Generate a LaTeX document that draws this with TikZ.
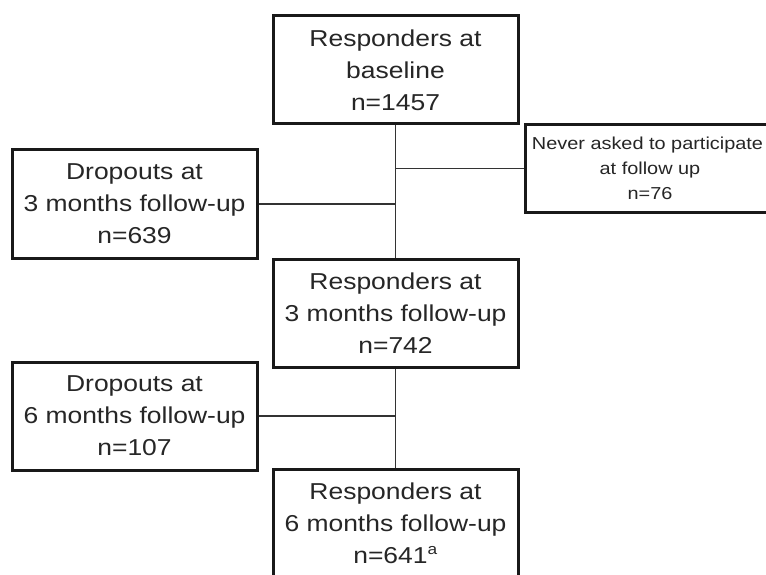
\documentclass[tikz,border=0pt]{standalone}
\usepackage{fontspec}
\setmainfont{Liberation Sans}[FakeStretch=1.15]
\usepackage{tikz}
\usetikzlibrary{positioning, shadows}

\begin{document}
\begin{tikzpicture}[
    x=1pt, y=-1pt,
    box/.style={rectangle, draw=black!90, line width=3pt, fill=white,
        minimum width=245pt, minimum height=108pt, inner sep=0pt,
        align=center, text=black!85, font=\fontsize{23}{32}\selectfont,
        general shadow={fill=black!85, shadow xshift=1.5pt, shadow yshift=-1.5pt}},
    smallbox/.style={box, minimum width=250pt, minimum height=87pt,
        font=\fontsize{17.3}{25}\selectfont},
    edge/.style={line width=1.2pt, black!80}
]
    \useasboundingbox (0,0) rectangle (766,575);

    % --- main column ---
    \node[box] (base)  at (395.5, 70)    {Responders at\\baseline\\n=1457};
    \node[box] (resp3) at (395.5, 313.5) {Responders at\\3 months follow-up\\n=742};
    \node[box] (resp6) at (395.5, 523)   {Responders at\\6 months follow-up\\n=641\textsuperscript{\fontsize{15}{15}\selectfont a}};

    % --- side boxes ---
    \node[box]      (drop3) at (134.5, 204) {Dropouts at\\3 months follow-up\\n=639};
    \node[smallbox] (never) at (650, 168.5) {\hspace*{-5pt}Never asked to participate\\at follow up\\n=76};
    \node[box]      (drop6) at (134.5, 416) {Dropouts at\\6 months follow-up\\n=107};

    % --- connectors ---
    \draw[edge] (base) -- (resp3);
    \draw[edge] (resp3) -- (resp6);
    \draw[edge] (never) -- (never -| base);
    \draw[edge] (drop3) -- (drop3 -| base);
    \draw[edge] (drop6) -- (drop6 -| resp3);

\end{tikzpicture}
\end{document}
